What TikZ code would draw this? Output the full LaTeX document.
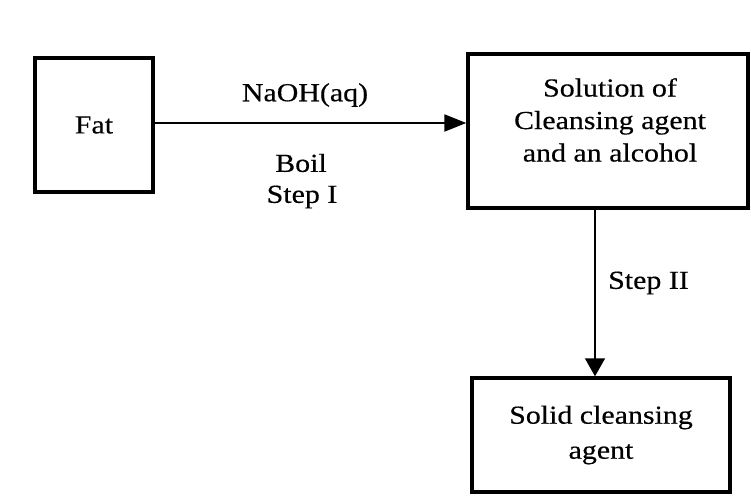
\documentclass[tikz,border=0pt]{standalone}
\usepackage{fontspec}
\setmainfont{Liberation Serif}[FakeStretch=1.15,FakeBold=0.4]
\usetikzlibrary{arrows.meta}
\begin{document}
\begin{tikzpicture}[x=1pt,y=-1pt,
  box/.style={draw=black,line width=3.4pt,inner sep=0pt,align=center,
    font=\fontsize{26}{33}\selectfont},
  lbl/.style={inner sep=0pt,align=center,font=\fontsize{26}{32}\selectfont},
  flow/.style={line width=2.2pt,-{Triangle[length=22pt,width=17pt]}},
  flowthin/.style={line width=1.4pt,-{Triangle[length=18pt,width=20pt]}}]
\useasboundingbox[fill=white] (0,0) rectangle (751,497);
\node[box,minimum width=118pt,minimum height=134pt] (fat) at (94,125) {Fat};
\node[box,minimum width=280pt,minimum height=154pt] (sol) at (608,131) {};
\node[lbl,font=\fontsize{26}{32.5}\selectfont] (soltext) at (610,120)
  {Solution of\\Cleansing agent\\and an alcohol};
\node[box,minimum width=258pt,minimum height=114pt,font=\fontsize{26}{35}\selectfont] (solid) at (601,435)
  {Solid cleansing\\agent};
\draw[flow] ([yshift=2pt]fat.east) -- ([yshift=2pt]fat.east -| sol.west);
\draw[flowthin] ([xshift=-13pt]sol.south) -- ([xshift=-6pt]solid.north);
\node[lbl] (naoh) at (305,95) {NaOH(aq)};
\node[lbl] (boil) at (301,163) {Boil};
\node[lbl] (step1) at (302,197) {Step I};
\node[lbl,anchor=west] (step2) at (608,283) {Step II};
\end{tikzpicture}
\end{document}
